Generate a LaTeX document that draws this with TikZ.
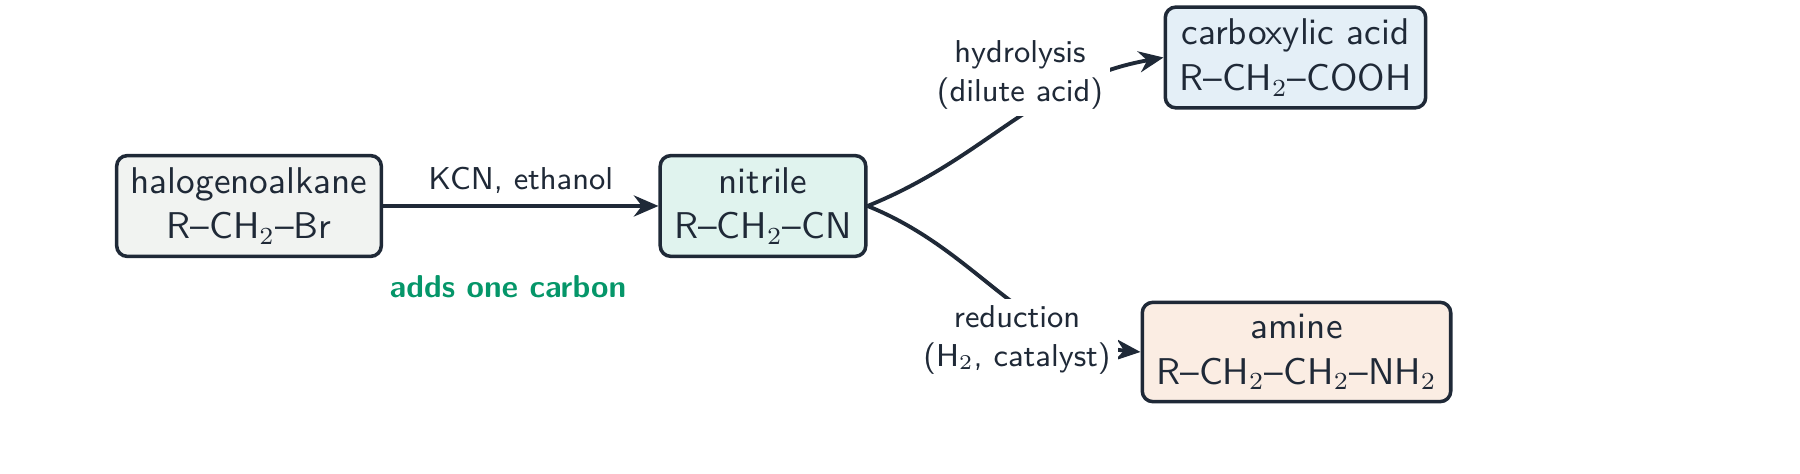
\documentclass[tikz,border=0pt]{standalone}
\usetikzlibrary{arrows.meta}
\renewcommand{\familydefault}{\sfdefault}
\definecolor{ink}{HTML}{1F2937}
\definecolor{grn}{HTML}{059669}
\definecolor{fgray}{HTML}{F1F3F1}
\definecolor{fteal}{HTML}{E0F3EE}
\definecolor{fblue}{HTML}{E4EFF7}
\definecolor{forange}{HTML}{FBEDE3}
\begin{document}
\begin{tikzpicture}[
  box/.style={draw=ink, line width=1pt, rounded corners=3pt, align=center, text=ink, minimum height=1cm, inner xsep=4pt, font=\fontsize{10.6}{13}\selectfont},
  conn/.style={draw=ink, line width=1.1pt, -{Stealth[length=7pt,width=6pt]}},
  lbl/.style={text=ink, align=center, font=\small, fill=white, inner sep=2pt}
]
\useasboundingbox (0,0) rectangle (18,4.74);
\node[box, fill=fgray, minimum width=2.48cm] (halo) at (2.49,2.68) {halogenoalkane\\R--CH$_2$--Br};
\node[box, fill=fteal, minimum width=1.94cm] (nit) at (7.63,2.68) {nitrile\\R--CH$_2$--CN};
\node[box, fill=fblue, minimum width=2.45cm] (acid) at (12.955,4.165) {carboxylic acid\\R--CH$_2$--COOH};
\node[box, fill=forange, minimum width=2.91cm, minimum height=0.93cm] (amine) at (12.965,1.22) {amine\\R--CH$_2$--CH$_2$--NH$_2$};
\draw[conn] (halo.east) -- node[above, text=ink, font=\small, inner sep=3pt] (kcn) {KCN, ethanol} (nit.west);
\node[text=grn, font=\small\bfseries] (adds) at (5.08,1.87) {adds one carbon};
\draw[conn] (nit.east) to[out=22,in=190] (acid.west);
\draw[conn] (nit.east) to[out=-22,in=175] (amine.west);
\node[lbl] (hyd) at (10.2,3.99) {hydrolysis\\(dilute acid)};
\node[lbl] (red) at (10.17,1.34) {reduction\\(H$_2$, catalyst)};
\end{tikzpicture}
\end{document}
